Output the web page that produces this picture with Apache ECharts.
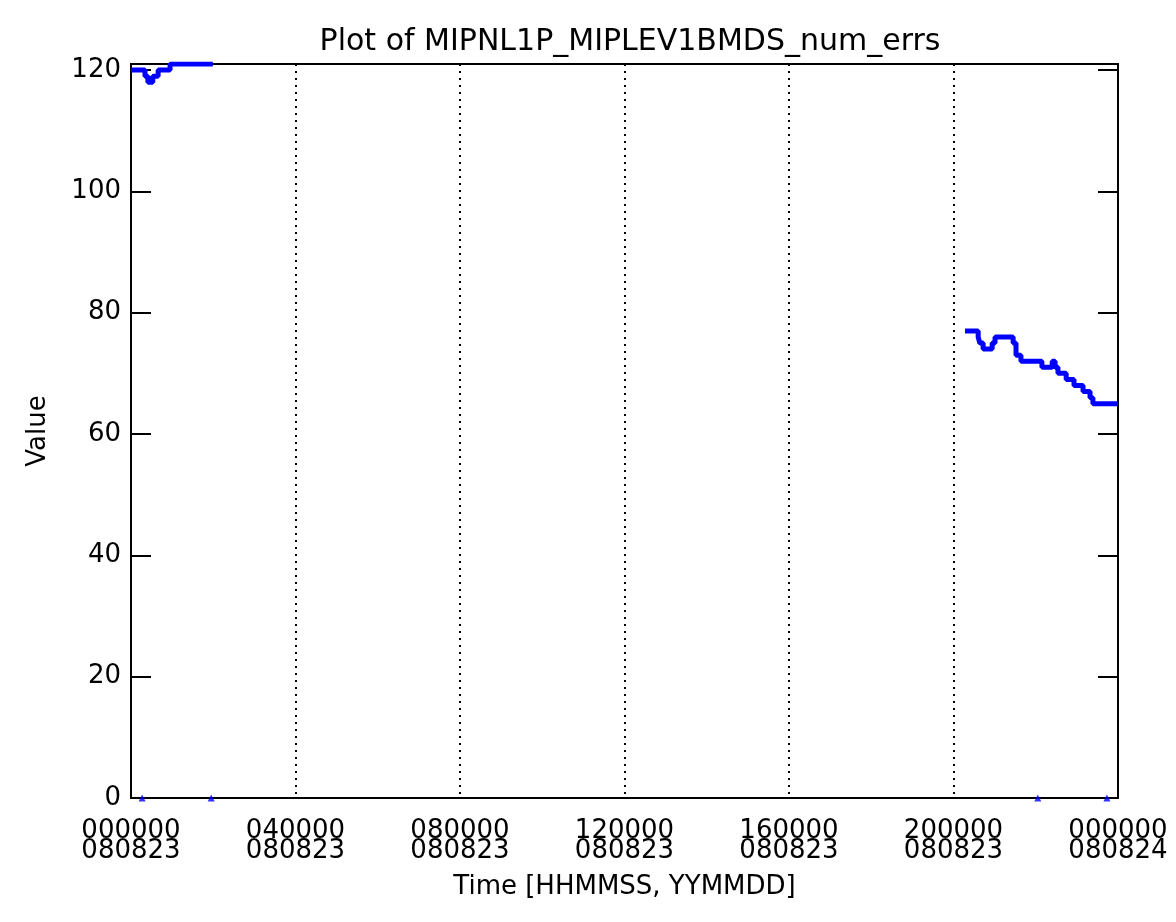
<!DOCTYPE html>
<html>
<head>
<meta charset="utf-8">
<title>MIPNL1P_MIPLEV1BMDS_num_errs</title>
<script src="https://cdn.jsdelivr.net/npm/echarts@6/dist/echarts.min.js"></script>
<style>
  html, body { margin: 0; padding: 0; background: #fff; }
  #chart { width: 1176px; height: 922px; }
</style>
</head>
<body>
<div id="chart"></div>
<script>
// hours since 000000 080823
const segAHours = [0.00, 0.34, 0.41, 0.53, 0.66, 0.95, 1.99]
const segAValues = [120, 119, 118, 119, 120, 121, 121]

const segBHours = [20.28, 20.60, 20.64, 20.72, 20.94, 21.01, 21.45, 21.52, 21.64, 22.15,
  22.40, 22.47, 22.54, 22.74, 22.93, 23.15, 23.32, 23.39, 24.00]
const segBValues = [77, 76, 75, 74, 75, 76, 75, 73, 72, 71,
  72, 71, 70, 69, 68, 67, 66, 65, 65]

// isolated zero readings on the bottom axis
const zeroHours = [0.27, 1.95, 22.05, 23.73]
const zeroValues = [0, 0, 0, 0]

const tickTimes = ['000000', '040000', '080000', '120000', '160000', '200000', '000000']
const tickDates = ['080823', '080823', '080823', '080823', '080823', '080823', '080824']

const font = 'DejaVu Sans'
const pairs = (xs, ys) => xs.map((x, i) => [x, ys[i]])

const chart = echarts.init(document.getElementById('chart'))

const yAxisBase = {
  type: 'value',
  min: 0,
  max: 121,
  interval: 20,
  axisLine: { show: true, lineStyle: { color: '#000', width: 2 } },
  axisTick: { show: true, inside: true, length: 20, lineStyle: { color: '#000', width: 2 } },
  splitLine: { show: false }
}

chart.setOption({
  animation: false,
  backgroundColor: '#fff',
  title: {
    text: 'Plot of MIPNL1P_MIPLEV1BMDS_num_errs',
    left: 625,
    textAlign: 'center',
    top: 22,
    textStyle: { fontFamily: font, fontSize: 30, fontWeight: 'normal', color: '#000' }
  },
  grid: {
    left: 131, right: 58, top: 64, bottom: 124,
    show: true, borderColor: '#000', borderWidth: 2
  },
  xAxis: {
    type: 'value',
    min: 0,
    max: 24,
    interval: 4,
    name: 'Time [HHMMSS, YYMMDD]',
    nameLocation: 'middle',
    nameGap: 76,
    nameTextStyle: { fontFamily: font, fontSize: 26, color: '#000' },
    axisLine: { show: true, lineStyle: { color: '#000', width: 2 } },
    axisTick: { show: false },
    splitLine: { show: true, lineStyle: { color: '#000', width: 2, type: [2, 5] } },
    axisLabel: {
      margin: 23,
      fontFamily: font,
      fontSize: 26,
      lineHeight: 20,
      color: '#000',
      formatter: v => {
        const i = Math.round(v / 4)
        return tickTimes[i] + '\n' + tickDates[i]
      }
    }
  },
  yAxis: [
    Object.assign({}, yAxisBase, {
      position: 'left',
      name: 'Value',
      nameLocation: 'middle',
      nameGap: 80,
      nameTextStyle: { fontFamily: font, fontSize: 26, color: '#000' },
      axisLabel: {
        margin: 10,
        fontFamily: font,
        fontSize: 26,
        color: '#000',
        formatter: v => (v % 20 === 0 ? String(v) : '')
      }
    }),
    Object.assign({}, yAxisBase, {
      position: 'right',
      axisLabel: { show: false }
    })
  ],
  series: [
    {
      name: 'num_errs',
      type: 'line',
      step: 'end',
      showSymbol: false,
      data: pairs(segAHours, segAValues),
      lineStyle: { color: '#0000ff', width: 5 }
    },
    {
      name: 'num_errs',
      type: 'line',
      step: 'end',
      showSymbol: false,
      data: pairs(segBHours, segBValues),
      lineStyle: { color: '#0000ff', width: 5 }
    },
    {
      name: 'zero',
      type: 'scatter',
      symbol: 'triangle',
      symbolSize: 7,
      data: pairs(zeroHours, zeroValues),
      itemStyle: { color: '#0000ff' }
    }
  ]
})

window.onresize = () => {
  chart.resize()
}
</script>
</body>
</html>
